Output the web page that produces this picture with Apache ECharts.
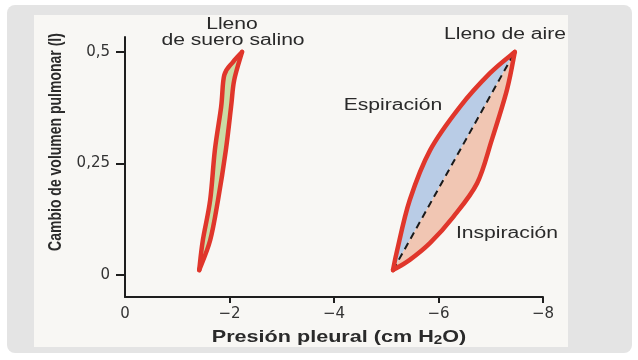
<!DOCTYPE html>
<html>
<head>
<meta charset="utf-8">
<script src="https://cdn.jsdelivr.net/npm/echarts@6/dist/echarts.min.js"></script>
<style>html,body{margin:0;padding:0;background:#fff;}#c{width:638px;height:360px;}</style>
</head>
<body>
<div id="c"></div>
<script>
// ---- data ----
const xTickValues = [0, -2, -4, -6, -8];
const xTickLabels = ['0', '\u22122', '\u22124', '\u22126', '\u22128'];
const yTickValues = [0, 0.25, 0.5];
const yTickLabels = ['0', '0,25', '0,5'];

// Saline-filled lung (pressure cm H2O, volume l), bottom -> top
const salineExpP = [-1.42, -1.49, -1.63, -1.72, -1.84, -1.90, -2.07, -2.24];
const salineExpV = [0.011, 0.078, 0.168, 0.280, 0.377, 0.448, 0.478, 0.500];
const salineInsP = [-1.42, -1.63, -1.78, -1.93, -2.03, -2.09, -2.24];
const salineInsV = [0.011, 0.078, 0.168, 0.280, 0.377, 0.437, 0.500];

// Air-filled lung, bottom -> top
const airExpP = [-5.13, -5.21, -5.45, -5.84, -6.41, -6.99, -7.46];
const airExpV = [0.011, 0.056, 0.168, 0.280, 0.377, 0.453, 0.500];
const airInsP = [-5.13, -5.45, -5.84, -6.28, -6.74, -7.02, -7.31, -7.46];
const airInsV = [0.011, 0.034, 0.072, 0.130, 0.206, 0.303, 0.415, 0.500];

// ---- drawing ----
const RED = '#e0362b', GREEN = '#cadca6', BLUE = '#b9cce6', SALMON = '#f1c6b3';
const FONT = 'Liberation Sans, Arial, sans-serif';

function splinePath(pts, move) {
  const n = pts.length;
  let d = (move ? 'M' : 'L') + pts[0][0] + ' ' + pts[0][1];
  for (let i = 0; i < n - 1; i++) {
    const p0 = pts[Math.max(i - 1, 0)], p1 = pts[i], p2 = pts[i + 1], p3 = pts[Math.min(i + 2, n - 1)];
    const c1x = p1[0] + (p2[0] - p0[0]) / 6, c1y = p1[1] + (p2[1] - p0[1]) / 6;
    const c2x = p2[0] - (p3[0] - p1[0]) / 6, c2y = p2[1] - (p3[1] - p1[1]) / 6;
    d += 'C' + c1x + ' ' + c1y + ' ' + c2x + ' ' + c2y + ' ' + p2[0] + ' ' + p2[1];
  }
  return d;
}

function renderItem(params, api) {
  if (params.dataIndex !== 0) return null;
  const pts = (ps, vs) => ps.map((p, i) => api.coord([p, vs[i]]));
  const sE = pts(salineExpP, salineExpV), sI = pts(salineInsP, salineInsV);
  const aE = pts(airExpP, airExpV), aI = pts(airInsP, airInsV);
  const aBottom = aI[0], aTop = aI[aI.length - 1];
  const stroke = (p) => ({
    type: 'path', shape: { pathData: splinePath(p, true) },
    style: { fill: 'none', stroke: RED, lineWidth: 4.5, lineCap: 'round', lineJoin: 'round' }
  });
  return {
    type: 'group',
    children: [
      { type: 'path', shape: { pathData: splinePath(sE, true) + splinePath(sI.slice().reverse(), false) + 'Z' },
        style: { fill: GREEN, stroke: 'none' } },
      { type: 'path', shape: { pathData: splinePath(aE, true) + 'L' + aBottom[0] + ' ' + aBottom[1] + 'Z' },
        style: { fill: BLUE, stroke: 'none' } },
      { type: 'path', shape: { pathData: splinePath(aI, true) + 'L' + aBottom[0] + ' ' + aBottom[1] + 'Z' },
        style: { fill: SALMON, stroke: 'none' } },
      { type: 'line', shape: { x1: aBottom[0], y1: aBottom[1], x2: aTop[0], y2: aTop[1] },
        style: { stroke: '#1a1a1a', lineWidth: 2, lineDash: [7, 5] } },
      stroke(sE), stroke(sI), stroke(aE), stroke(aI)
    ]
  };
}

const chart = echarts.init(document.getElementById('c'), null, { renderer: 'canvas' });
const axisColor = '#1e1e1e';
const txt = (text, x, y, size, weight, extra) => Object.assign({
  type: 'text', x: x, y: y, scaleX: 1.32, z: 10,
  style: { text: text, fill: '#2a2a2a', font: (weight || 'normal') + ' ' + size + 'px ' + FONT,
    textAlign: 'center', textVerticalAlign: 'middle' }
}, extra || {});

chart.setOption({
  animation: false,
  grid: { left: 125, right: 95, top: 37, bottom: 63 },
  xAxis: {
    type: 'value', min: -8, max: 0, interval: 2, inverse: true,
    axisLine: { onZero: false, lineStyle: { color: axisColor, width: 2 } },
    axisTick: { show: true, customValues: [-2, -4, -6, -8], length: 6, lineStyle: { color: axisColor, width: 2 } },
    axisLabel: { customValues: xTickValues, formatter: (v) => xTickLabels[xTickValues.indexOf(v)],
      color: '#333', fontFamily: 'DejaVu Sans', fontSize: 15, margin: 10 },
    splitLine: { show: false }
  },
  yAxis: {
    type: 'value', min: -0.0493, max: 0.5336,
    axisLine: { show: true, onZero: false, lineStyle: { color: axisColor, width: 2 } },
    axisTick: { show: true, customValues: yTickValues, length: 9, lineStyle: { color: axisColor, width: 2 } },
    axisLabel: { customValues: yTickValues, formatter: (v) => yTickLabels[yTickValues.indexOf(v)],
      color: '#333', fontFamily: 'DejaVu Sans', fontSize: 15, margin: 15 },
    splitLine: { show: false }
  },
  graphic: [
    { type: 'rect', shape: { x: 7, y: 5, width: 625, height: 348, r: 8 }, style: { fill: '#e4e4e4' }, z: -10 },
    { type: 'rect', shape: { x: 34, y: 15, width: 534, height: 332 }, style: { fill: '#f8f7f4' }, z: -9 },
    txt('Lleno', 232, 24.5, 16),
    txt('de suero salino', 233, 41, 16),
    txt('Lleno de aire', 505, 34.5, 16),
    txt('Espiración', 393, 105.5, 16),
    txt('Inspiración', 507, 233.5, 16),
    {
      type: 'text', x: 339, y: 337, scaleX: 1.27, z: 10,
      style: {
        text: '{a|Presión pleural (cm H}{s|2}{a|O)}', textAlign: 'center', textVerticalAlign: 'middle',
        rich: {
          a: { font: 'bold 17px ' + FONT, fill: '#2a2a2a', lineHeight: 20, verticalAlign: 'middle' },
          s: { font: 'bold 12px ' + FONT, fill: '#2a2a2a', lineHeight: 12, verticalAlign: 'bottom' }
        }
      }
    },
    {
      type: 'text', x: 56, y: 142, rotation: Math.PI / 2, scaleY: 1.3, z: 10,
      style: { text: 'Cambio de volumen pulmonar (l)', fill: '#2a2a2a', font: 'bold 14px ' + FONT,
        textAlign: 'center', textVerticalAlign: 'middle' }
    }
  ],
  series: [{
    type: 'custom', coordinateSystem: 'cartesian2d', silent: true, clip: false, z: 3,
    data: [[salineExpP[0], salineExpV[0]]],
    renderItem: renderItem
  }]
});
</script>
</body>
</html>
